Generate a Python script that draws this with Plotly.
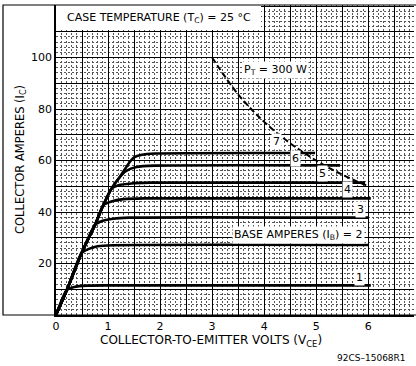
import plotly.graph_objects as go

# ---- data (VCE in volts, IC in amperes) ----
vce_ib1 = [0, 0.21, 0.35, 0.6, 1.0, 6.05]
ic_ib1 = [0, 9.8, 10.9, 11.4, 11.5, 11.5]

vce_ib2 = [0, 0.21, 0.49, 0.62, 0.8, 1.1, 6.0]
ic_ib2 = [0, 9.8, 24.0, 25.6, 26.7, 27.1, 27.2]

vce_ib3 = [0, 0.21, 0.49, 0.75, 0.9, 1.1, 1.4, 6.0]
ic_ib3 = [0, 9.8, 24.0, 35.0, 36.6, 37.4, 37.8, 37.8]

vce_ib4 = [0, 0.21, 0.49, 0.75, 0.91, 1.05, 1.3, 1.7, 6.05]
ic_ib4 = [0, 9.8, 24.0, 35.0, 42.7, 44.0, 45.0, 45.3, 45.3]

vce_ib5 = [0, 0.21, 0.49, 0.75, 0.91, 1.07, 1.2, 1.45, 1.8, 5.94]
ic_ib5 = [0, 9.8, 24.0, 35.0, 42.7, 49.2, 50.4, 51.1, 51.4, 51.4]

vce_ib6 = [0, 0.21, 0.49, 0.75, 0.91, 1.07, 1.23, 1.35, 1.55, 1.9, 5.46]
ic_ib6 = [0, 9.8, 24.0, 35.0, 42.7, 49.2, 53.7, 56.0, 57.5, 58.0, 58.1]

vce_ib7 = [0, 0.21, 0.49, 0.75, 0.91, 1.07, 1.23, 1.42, 1.5, 1.65, 1.9, 4.98]
ic_ib7 = [0, 9.8, 24.0, 35.0, 42.7, 49.2, 53.7, 59.5, 61.2, 62.2, 62.7, 62.9]

vce_pt = [3.0, 3.5, 4.0, 4.5, 5.0, 5.5, 6.0]
ic_pt = [100.0, 85.7, 75.0, 66.7, 60.0, 54.5, 50.0]

x_ticks = [0, 0.5, 1, 1.5, 2, 2.5, 3, 3.5, 4, 4.5, 5, 5.5, 6, 6.5]
x_ticktext = ["0", "", "1", "", "2", "", "3", "", "4", "", "5", "", "6", ""]
y_ticks = [0, 10, 20, 30, 40, 50, 60, 70, 80, 90, 100, 110, 120]
y_ticktext = ["", "", "20", "", "40", "", "60", "", "80", "", "100", "", ""]

curve_labels = ["1", "2", "3", "4", "5", "6", "7"]

FONT = "DejaVu Sans"

fig = go.Figure()
curves = [(vce_ib1, ic_ib1), (vce_ib2, ic_ib2), (vce_ib3, ic_ib3), (vce_ib4, ic_ib4),
          (vce_ib5, ic_ib5), (vce_ib6, ic_ib6), (vce_ib7, ic_ib7)]
for (vx, iy), name in zip(curves, curve_labels):
    fig.add_trace(go.Scatter(x=vx, y=iy, mode="lines", name=name,
                             line=dict(color="black", width=2.6, shape="spline", smoothing=0.6),
                             hoverinfo="skip", showlegend=False))
fig.add_trace(go.Scatter(x=vce_pt, y=ic_pt, mode="lines",
                         line=dict(color="black", width=2, dash="6px,3px", shape="spline", smoothing=1),
                         hoverinfo="skip", showlegend=False))

axis_common = dict(showline=True, linecolor="black", linewidth=1.5, zeroline=False,
                   ticks="", showgrid=True, gridcolor="black", gridwidth=1, automargin=False,
                   tickfont=dict(family=FONT, size=11, color="black"))
fig.update_xaxes(range=[0, 6.88], tickmode="array", tickvals=x_ticks, ticktext=x_ticktext,
                 ticklabelstandoff=0,
                 minor=dict(tickmode="linear", tick0=0, dtick=0.1, showgrid=True,
                            gridcolor="#555", griddash="2px,2px", gridwidth=1), **axis_common)
fig.update_yaxes(range=[0, 120.4], tickmode="array", tickvals=y_ticks, ticktext=y_ticktext,
                 ticklabelstandoff=0,
                 minor=dict(tickmode="linear", tick0=0, dtick=2, showgrid=True,
                            gridcolor="#555", griddash="2px,2px", gridwidth=1), **axis_common)

shapes = [
    # white caption box over the top-left of the grid
    dict(type="rect", xref="x", yref="paper", x0=0, x1=3.94, y0=(315 - 30) / 310, y1=1,
         fillcolor="white", line=dict(width=0), layer="above"),
    # outer frame
    dict(type="rect", xref="paper", yref="paper", x0=(3 - 56) / 358, x1=1.01, y0=0, y1=1,
         line=dict(color="black", width=1.2), layer="above"),
]

ann = []
def lab(x, y, text, size=11, **kw):
    d = dict(x=x, y=y, xref="x", yref="y", text=text, showarrow=False, yanchor="middle",
             font=dict(family=FONT, size=size, color="black"), bgcolor="white", borderpad=1)
    d.update(kw)
    ann.append(d)

lab(4.23, 67.2, "7")
lab(4.60, 60.6, "6")
lab(5.12, 55.1, "5")
lab(5.60, 48.9, "4")
lab(5.85, 40.8, "3")
lab(5.83, 14.4, "1")
lab(5.94, 31.1, "BASE AMPERES (I<sub>B</sub>) = 2", xanchor="right")
lab(4.22, 95.1, "P<sub>T</sub> = 300 W")

def pann(px, py, text, size, **kw):
    d = dict(x=(px - 56) / 358, y=(315 - py) / 310, xref="paper", yref="paper",
             text=text, showarrow=False, xanchor="center", yanchor="middle",
             font=dict(family=FONT, size=size, color="black"))
    d.update(kw)
    ann.append(d)

pann(65, 18, "CASE TEMPERATURE (T<sub>C</sub>) = 25 °C", 11, xanchor="left")
pann(211, 341, "COLLECTOR-TO-EMITTER VOLTS (V<sub>CE</sub>)", 12)
pann(20, 160, "COLLECTOR AMPERES (I<sub>C</sub>)", 11.5, textangle=-90)
pann(408, 358, "92CS\u201315068R1", 9, xanchor="right")

fig.update_layout(width=416, height=366, margin=dict(l=56, r=2, t=5, b=51),
                  paper_bgcolor="white", plot_bgcolor="white",
                  shapes=shapes, annotations=ann, showlegend=False)

fig.write_html("out.html", config={"displayModeBar": False},
               post_script="document.body.style.margin='0';document.body.style.padding='0';")
